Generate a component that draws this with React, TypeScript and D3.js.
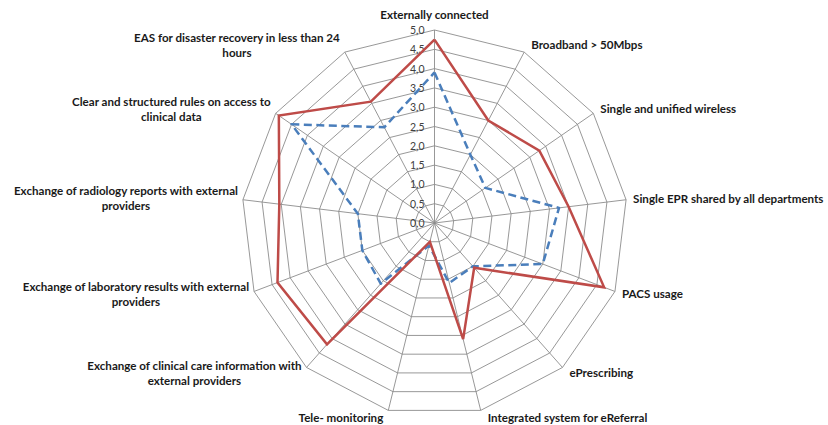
import React, { useEffect, useRef } from "react";
import * as d3 from "d3";

const categories: string[][] = [
  ["Externally connected"],
  ["Broadband > 50Mbps"],
  ["Single and unified wireless"],
  ["Single EPR shared by all departments"],
  ["PACS usage"],
  ["ePrescribing"],
  ["Integrated system for eReferral"],
  ["Tele- monitoring"],
  ["Exchange of clinical  care information with", "external providers"],
  ["Exchange of laboratory results with external", "providers"],
  ["Exchange of radiology reports with external", "providers"],
  ["Clear and structured rules on access to", "clinical data"],
  ["EAS for disaster recovery in less than 24", "hours"],
];

const seriesRed: number[] = [4.75, 3.0, 3.3, 3.5, 4.7, 1.55, 3.1, 0.5, 4.2, 4.35, 4.05, 4.9, 3.55];
const seriesBlue: number[] = [3.9, 2.0, 1.6, 3.25, 3.0, 1.5, 1.6, 0.6, 2.1, 2.0, 2.0, 4.5, 2.8];
const tickValues: number[] = [0, 0.5, 1, 1.5, 2, 2.5, 3, 3.5, 4, 4.5, 5];
const tickLabels: string[] = ["0,0", "0,5", "1,0", "1,5", "2,0", "2,5", "3,0", "3,5", "4,0", "4,5", "5,0"];

const W = 828;
const H = 425;
const CX = 434.5;
const CY = 223;
const R = 193;

export default function App() {
  const ref = useRef<SVGSVGElement | null>(null);

  useEffect(() => {
    const svg = d3.select(ref.current);
    svg.selectAll("*").remove();
    const n = categories.length;
    const r = d3.scaleLinear().domain([0, 5]).range([0, R]);
    const ang = d3.scaleLinear().domain([0, n]).range([0, 2 * Math.PI]);
    const pt = (i: number, v: number): [number, number] => [
      CX + r(v) * Math.sin(ang(i)),
      CY - r(v) * Math.cos(ang(i)),
    ];

    svg.append("rect").attr("width", W).attr("height", H).attr("fill", "#ffffff");

    const g = svg.append("g");
    // rings
    tickValues.slice(1).forEach((t) => {
      const pts = d3.range(n).map((i) => pt(i, t));
      g.append("path")
        .attr("d", d3.line()(pts.concat([pts[0]])) as string)
        .attr("fill", "none")
        .attr("stroke", "#8c8c8c")
        .attr("stroke-width", 0.9);
    });
    // spokes
    d3.range(n).forEach((i) => {
      const [x, y] = pt(i, 5);
      g.append("line")
        .attr("x1", CX).attr("y1", CY).attr("x2", x).attr("y2", y)
        .attr("stroke", "#8c8c8c").attr("stroke-width", 0.9);
    });

    // tick labels
    tickValues.forEach((t, k) => {
      g.append("text")
        .attr("x", CX - 10)
        .attr("y", CY - r(t) + 4)
        .attr("text-anchor", "end")
        .attr("font-family", "Lato, 'Open Sans', sans-serif")
        .attr("font-size", 10.5)
        .attr("fill", "#404040")
        .text(tickLabels[k]);
    });

    const radial = (vals: number[]) => {
      const pts = vals.map((v, i) => pt(i, v));
      return d3.line()(pts.concat([pts[0]])) as string;
    };

    g.append("path")
      .attr("d", radial(seriesBlue))
      .attr("fill", "none")
      .attr("stroke", "#4a7ebb")
      .attr("stroke-width", 2.5)
      .attr("stroke-dasharray", "8,4.5")
      .attr("stroke-linejoin", "round");

    g.append("path")
      .attr("d", radial(seriesRed))
      .attr("fill", "none")
      .attr("stroke", "#be4b48")
      .attr("stroke-width", 2.5)
      .attr("stroke-linejoin", "miter");

    // category labels
    const lineH = 15;
    categories.forEach((lines, i) => {
      const [vx, vy] = pt(i, 5);
      const tg = g.append("g");
      const texts = lines.map((s) =>
        tg.append("text")
          .attr("font-family", "Lato, 'Open Sans', sans-serif")
          .attr("font-size", 11.6)
          .attr("font-weight", 700)
          .attr("fill", "#1a1a1a")
          .attr("text-anchor", "middle")
          .text(s)
      );
      const widths = texts.map((t) => (t.node() as SVGTextElement).getComputedTextLength());
      const bw = Math.max(...widths);
      const a = ang(i);
      const sx = Math.sin(a);
      let cxText: number;
      let cyBlock: number;
      if (i === 0) {
        cxText = vx;
        cyBlock = vy - 15;
      } else if (sx > 0.01) {
        cxText = vx + 7 + bw / 2;
        cyBlock = vy - 7.5 * Math.cos(a);
      } else {
        cxText = vx - 5 - bw / 2;
        cyBlock = vy - 7.5 * Math.cos(a);
      }
      const top = cyBlock - ((lines.length - 1) * lineH) / 2;
      texts.forEach((t, k) => {
        t.attr("x", cxText).attr("y", top + k * lineH + 4);
      });
    });
  }, []);

  return (
    <div style={{ position: "absolute", left: 0, top: 0 }}>
      <svg ref={ref} width={W} height={H} />
    </div>
  );
}
